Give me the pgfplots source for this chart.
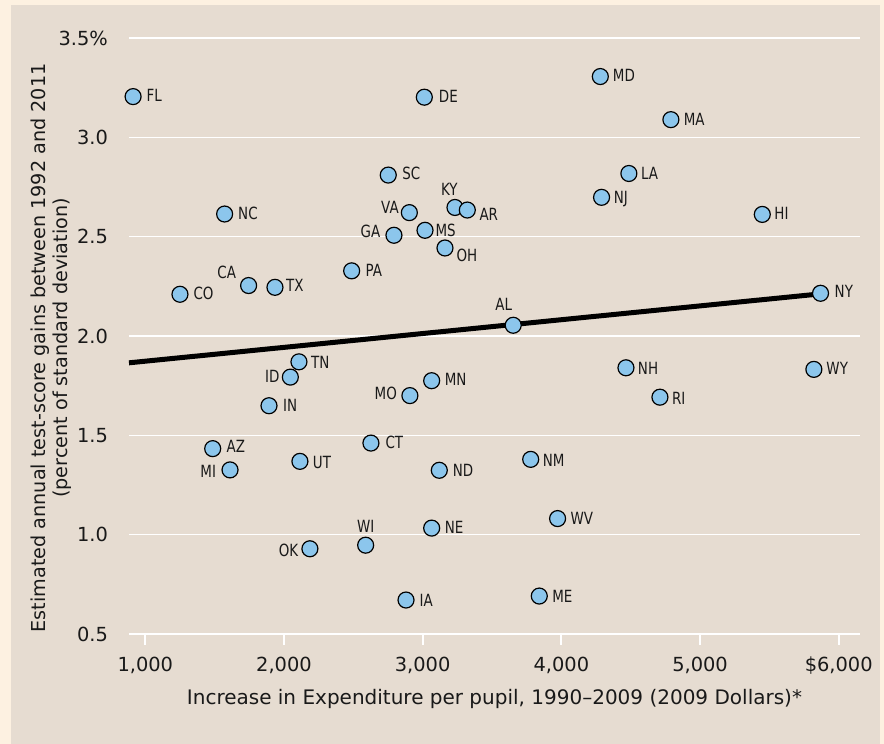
\documentclass[border=0pt]{standalone}
\usepackage{pgfplots}
\pgfplotsset{compat=1.18}
\usepackage{fontspec}
\setmainfont{DejaVu Sans}
\newfontfamily\labfamily[FakeStretch=0.80]{DejaVu Sans}
\definecolor{panelc}{RGB}{230,220,209}
\definecolor{creamc}{RGB}{253,241,225}
\definecolor{markblue}{RGB}{140,198,236}
\definecolor{textc}{RGB}{25,25,25}

\pgfplotsset{statemark/.style={only marks, mark=*, mark size=4pt,
  mark options={fill=markblue, draw=black, line width=0.6pt},
  every node near coord/.append style={inner sep=0pt,
     font=\labfamily\fontsize{8.4}{10}\selectfont, text=textc}}}
% state, x, y, anchor, dx (pt), dy (pt)
\newcommand{\st}[6]{\addplot[statemark, nodes near coords={#1},
  every node near coord/.append style={anchor=#4, xshift=#5pt, yshift=#6pt}]
  coordinates {(#2,#3)};}

\begin{document}
\begin{tikzpicture}
\fill[creamc] (-64.5pt,-55pt) rectangle (377.5pt,317pt);
\fill[panelc] (-59pt,-55pt) rectangle (375.5pt,314.5pt);
\begin{axis}[
  at={(0pt,0pt)}, anchor=south west,
  scale only axis, width=365.5pt, height=298pt,
  xmin=882.5, xmax=6153.6, ymin=0.5, ymax=3.5,
  clip=false,
  axis x line*=bottom, axis y line*=left,
  x axis line style={white, line width=1.1pt, -},
  y axis line style={draw=none, -},
  xtick={1000,2000,3000,4000,5000,6000},
  xticklabels={1{,}000,2{,}000,3{,}000,4{,}000,5{,}000,\$6{,}000},
  ytick={0.5,1,1.5,2,2.5,3,3.5},
  yticklabels={0.5,1.0,1.5,2.0,2.5,3.0,3.5\%},
  /pgf/number format/assume math mode=true,
  tick align=outside,
  xtick style={white, line width=1.1pt},
  ytick style={draw=none},
  x tick label style={font=\fontsize{9.7}{12}\selectfont, text=textc, anchor=north, yshift=-2.5pt},
  y tick label style={font=\fontsize{9.7}{12}\selectfont, text=textc, anchor=east, xshift=-1.5pt},
  major tick length=5.5pt,
  ymajorgrids, major grid style={white, line width=0.8pt},
  every axis x label/.style={at={(axis description cs:0.5,-0.1095)}, anchor=center,
     font=\fontsize{10}{11}\selectfont, text=textc},
  every axis y label/.style={at={(axis description cs:-0.1067,0.48)}, rotate=90, anchor=center, align=center,
     font=\fontsize{9.6}{11}\selectfont, text=textc},
  xlabel={Increase in Expenditure per pupil, 1990--2009 (2009 Dollars)*},
  ylabel={Estimated annual test-score gains between 1992 and 2011\\(percent of standard deviation)},
]
\addplot[black, line width=2.5pt] coordinates {(882.5,1.865) (5869,2.212)};
\st{FL}{912}{3.205}{west}{6.5}{0.5}
\st{NC}{1572}{2.614}{west}{6.5}{0.5}
\st{CO}{1250}{2.210}{west}{6.5}{0.5}
\st{CA}{1745}{2.254}{east}{-6}{6.6}
\st{TX}{1935}{2.245}{west}{5.3}{1}
\st{PA}{2488}{2.328}{west}{6.7}{0}
\st{GA}{2793}{2.507}{east}{-6.5}{2}
\st{VA}{2904}{2.621}{east}{-5}{2.5}
\st{MS}{3017}{2.532}{west}{5}{0}
\st{SC}{2752}{2.810}{west}{6.7}{0.8}
\st{KY}{3233}{2.647}{south}{-2.8}{5.8}
\st{AR}{3322}{2.634}{west}{5.8}{-2.2}
\st{OH}{3161}{2.443}{west}{5.5}{-3.6}
\st{AL}{3653}{2.054}{south}{-4.7}{7}
\st{LA}{4487}{2.818}{west}{5.8}{0}
\st{NJ}{4290}{2.698}{west}{5.8}{-0.8}
\st{NH}{4466}{1.840}{west}{5.7}{-0.5}
\st{RI}{4711}{1.692}{west}{5.8}{-0.8}
\st{CT}{2627}{1.461}{west}{7}{0.5}
\st{MN}{3065}{1.775}{west}{6.3}{0.5}
\st{MO}{2908}{1.700}{east}{-6.2}{1}
\st{TN}{2108}{1.870}{west}{5.8}{-0.5}
\st{ID}{2046}{1.793}{east}{-5.2}{0.5}
\st{IN}{1892}{1.649}{west}{6.8}{0}
\st{AZ}{1486}{1.433}{west}{6.7}{1.3}
\st{MI}{1611}{1.326}{east}{-6.7}{-0.7}
\st{UT}{2115}{1.369}{west}{6.2}{-0.8}
\st{ND}{3120}{1.324}{west}{6.5}{0}
\st{NM}{3779}{1.379}{west}{5.8}{-0.5}
\st{WV}{3973}{1.081}{west}{6.2}{0}
\st{NE}{3065}{1.033}{west}{6.3}{0.3}
\st{WI}{2589}{0.947}{south}{0}{5.8}
\st{OK}{2187}{0.929}{east}{-5.5}{-0.7}
\st{IA}{2880}{0.671}{west}{6.5}{0}
\st{ME}{3841}{0.691}{west}{6.2}{-0.3}
\st{DE}{3012}{3.202}{west}{7}{0.6}
\st{MD}{4281}{3.306}{west}{6}{0.7}
\st{MA}{4790}{3.089}{west}{6.2}{0}
\st{HI}{5449}{2.612}{west}{5.8}{0.5}
\st{NY}{5869}{2.215}{west}{6.8}{1}
\st{WY}{5821}{1.832}{west}{6}{0.3}
\end{axis}
\end{tikzpicture}
\end{document}
